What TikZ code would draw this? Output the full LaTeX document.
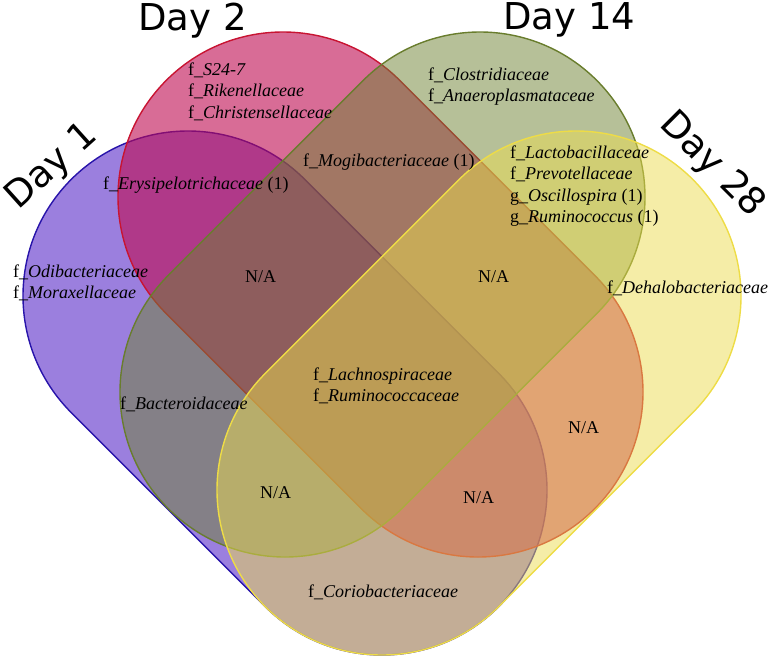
\documentclass[tikz,border=0pt]{standalone}
\usepackage{fontspec}
\setmainfont{Liberation Serif}
\newfontfamily\dayfont{DejaVu Sans}
\definecolor{bluefill}{RGB}{55,0,190}
\definecolor{blueedge}{RGB}{40,20,170}
\definecolor{redfill}{RGB}{190,10,80}
\definecolor{rededge}{RGB}{200,20,50}
\definecolor{greenfill}{RGB}{110,130,50}
\definecolor{greenedge}{RGB}{105,125,45}
\definecolor{yellowfill}{RGB}{235,220,80}
\definecolor{yellowedge}{RGB}{238,220,70}
\begin{document}
\begin{tikzpicture}[x=1pt,y=-1pt,
  setshape/.style={line width=1.4pt},
  lab/.style={anchor=base west, inner sep=0pt, font=\fontsize{18}{21.5}\selectfont},
  daylab/.style={inner sep=0pt, font=\dayfont\fontsize{37}{40}\selectfont}]
\useasboundingbox (0,0) rectangle (771,657);
% Day 1 (blue)
\path[setshape, draw=blueedge, fill=bluefill, fill opacity=0.5]
  (188,296) ++(135:165) arc[start angle=135,end angle=315,radius=165]
  -- ++(194,194) arc[start angle=-45,end angle=135,radius=165] -- cycle;
% Day 2 (red)
\path[setshape, draw=rededge, fill=redfill, fill opacity=0.6]
  (283,197) ++(135:165) arc[start angle=135,end angle=315,radius=165]
  -- ++(195,195) arc[start angle=-45,end angle=135,radius=165] -- cycle;
% Day 14 (green)
\path[setshape, draw=greenedge, fill=greenfill, fill opacity=0.5]
  (480,197) ++(45:165) arc[start angle=45,end angle=-135,radius=165]
  -- ++(-195,195) arc[start angle=-135,end angle=-315,radius=165] -- cycle;
% Day 28 (yellow)
\path[setshape, draw=yellowedge, fill=yellowfill, fill opacity=0.5]
  (576,296) ++(45:165) arc[start angle=45,end angle=-135,radius=165]
  -- ++(-194,194) arc[start angle=-135,end angle=-315,radius=165] -- cycle;

% set titles
\node[daylab, rotate=42] (t1) at (52,167) {Day 1};
\node[daylab, anchor=base west] (t2) at (138,30) {Day 2};
\node[daylab, anchor=base west] (t14) at (503,29) {Day 14};
\node[daylab, rotate=-45] (t28) at (712,165) {Day 28};

% region labels
\node[lab] (s2) at (188,75) {\begin{tabular}[t]{@{}l@{}}f\_\textit{S24-7}\\ f\_\textit{Rikenellaceae}\\ f\_\textit{Christensellaceae}\end{tabular}};
\node[lab] (s12) at (103,189) {f\_\textit{Erysipelotrichaceae} (1)};
\node[lab] (s23) at (303,166) {f\_\textit{Mogibacteriaceae} (1)};
\node[lab] (s14) at (428,80) {\begin{tabular}[t]{@{}l@{}}f\_\textit{Clostridiaceae}\\ f\_\textit{Anaeroplasmataceae}\end{tabular}};
\node[lab] (s34) at (510,158) {\begin{tabular}[t]{@{}l@{}}f\_\textit{Lactobacillaceae}\\ f\_\textit{Prevotellaceae}\\ g\_\textit{Oscillospira} (1)\\ g\_\textit{Ruminococcus} (1)\end{tabular}};
\node[lab] (s1) at (13,277) {\begin{tabular}[t]{@{}l@{}}f\_\textit{Odibacteriaceae}\\ f\_\textit{Moraxellaceae}\end{tabular}};
\node[lab] (na1) at (245,282) {N/A};
\node[lab] (na2) at (478,282) {N/A};
\node[lab] (s4) at (607,293) {f\_\textit{Dehalobacteriaceae}};
\node[lab] (sall) at (313,380) {\begin{tabular}[t]{@{}l@{}}f\_\textit{Lachnospiraceae}\\ f\_\textit{Ruminococcaceae}\end{tabular}};
\node[lab] (s13) at (120,409) {f\_\textit{Bacteroidaceae}};
\node[lab] (na3) at (568,433) {N/A};
\node[lab] (na4) at (260,498) {N/A};
\node[lab] (na5) at (463,503) {N/A};
\node[lab] (s15) at (308,597) {f\_\textit{Coriobacteriaceae}};
\end{tikzpicture}
\end{document}
